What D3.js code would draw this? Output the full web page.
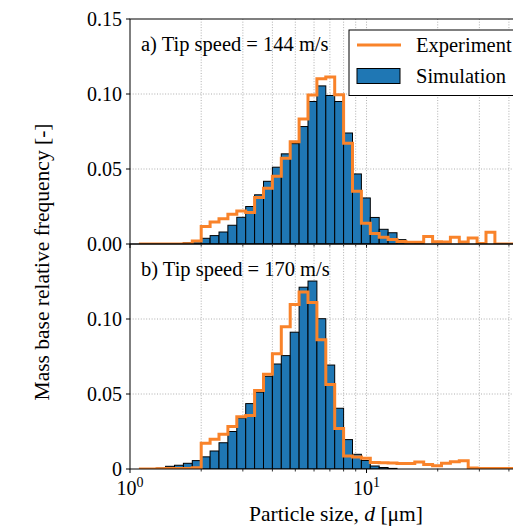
<!DOCTYPE html>
<html>
<head>
<meta charset="utf-8">
<script src="https://cdn.jsdelivr.net/npm/d3@7"></script>
<style>
  body { margin: 0; background: #fff; }
  svg { display: block; }
  text { font-family: "Liberation Serif", "Times New Roman", "DejaVu Serif", serif; fill: #000; }
</style>
</head>
<body>
<svg id="chart"></svg>
<script>
// bins are log spaced, 8 per octave: bin k covers [2^(k/8), 2^((k+1)/8)]
const binsPerOctave = 8;

// a) tip speed 144 m/s
const simStartA = 6;
const simA = [0.0008, 0.0015, 0.0038, 0.0056, 0.008, 0.0125, 0.0178, 0.025, 0.0328,
  0.0418, 0.0512, 0.0601, 0.0669, 0.0783, 0.095, 0.1054, 0.099, 0.095, 0.074,
  0.0467, 0.0307, 0.0177, 0.0098, 0.0075, 0.0029, 0.0013, 0.0006];
const expStartA = 1;
const expA = [0, 0, 0, 0, 0, 0.0002, 0.002, 0.0116, 0.0147, 0.0169, 0.0198, 0.022,
  0.021, 0.031, 0.0372, 0.0452, 0.0572, 0.0681, 0.0834, 0.0993, 0.1102, 0.1114,
  0.0995, 0.0671, 0.0352, 0.0138, 0.007, 0.0045, 0.003, 0.0017, 0.0012, 0.0012,
  0.005, 0.0015, 0.0013, 0.0045, 0.0013, 0.004, 0.0003, 0.0078, 0, 0, 0, 0, 0];

// b) tip speed 170 m/s
const simStartB = 3;
const simB = [0.0006, 0.0018, 0.0025, 0.0038, 0.0056, 0.0081, 0.012, 0.0175, 0.025,
  0.034, 0.0436, 0.0512, 0.0618, 0.07, 0.0756, 0.0912, 0.1212, 0.1253, 0.1002,
  0.0693, 0.0405, 0.0196, 0.0098, 0.0057, 0.002, 0.001, 0.0004];
const expStartB = 1;
const expB = [0, 0, 0.0002, 0.0003, 0.0003, 0.0004, 0.0008, 0.0172, 0.0198, 0.0232,
  0.0284, 0.0349, 0.0356, 0.0524, 0.0631, 0.0768, 0.0948, 0.1096, 0.118, 0.111,
  0.0862, 0.0564, 0.027, 0.0086, 0.008, 0.0072, 0.0044, 0.0042, 0.004, 0.0036,
  0.0037, 0.0047, 0.003, 0.0021, 0.0038, 0.0048, 0.0055, 0.0006, 0.0004, 0.0004,
  0.0004, 0.0004, 0.0004, 0.0004, 0.0004];

const panelLabels = ["a) Tip speed = 144 m/s", "b) Tip speed = 170 m/s"];
const yTicksA = [0, 0.05, 0.1, 0.15];
const yTickLabelsA = ["0.00", "0.05", "0.10", "0.15"];
const yTicksB = [0, 0.05, 0.1];
const yTickLabelsB = ["0", "0.05", "0.10"];
const legendLabels = ["Experiment", "Simulation"];

const width = 513, height = 527;
const left = 130, right = 542;
const blue = "#1f77b4", orange = "#f9832a";

const svg = d3.select("#chart").attr("width", width).attr("height", height);

const x = d3.scaleLog().domain([1, 55.2]).range([left, right]);
const yA = d3.scaleLinear().domain([0, 0.15]).range([244, 19]);
const yB = d3.scaleLinear().domain([0, 0.15]).range([469, 244]);

const edge = (k) => Math.pow(2, k / binsPerOctave);
const minorTicks = [2, 3, 4, 5, 6, 7, 8, 9, 20, 30, 40, 50];
const majorTicks = [1, 10];

function drawPanel(id, y, simStart, sim, expStart, exp, label, ticks, tickLabels) {
  const g = svg.append("g");
  const top = y.range()[1], bottom = y.range()[0];

  g.append("clipPath").attr("id", "clip" + id)
    .append("rect").attr("x", left).attr("y", top)
    .attr("width", right - left).attr("height", bottom - top);

  // grid, dotted
  const grid = g.append("g").attr("stroke", "#9a9a9a").attr("stroke-width", 0.8)
    .attr("stroke-dasharray", "1,1.7");
  grid.selectAll("line.vx")
    .data(minorTicks.concat([10]))
    .join("line")
    .attr("x1", (d) => x(d)).attr("x2", (d) => x(d))
    .attr("y1", top).attr("y2", bottom);
  grid.selectAll("line.hy")
    .data([0.05, 0.1])
    .join("line")
    .attr("x1", left).attr("x2", right)
    .attr("y1", (d) => y(d)).attr("y2", (d) => y(d));

  const plot = g.append("g").attr("clip-path", `url(#clip${id})`);

  // simulation bars
  plot.selectAll("rect")
    .data(sim.map((v, i) => ({ k: simStart + i, v: v })))
    .join("rect")
    .attr("x", (d) => x(edge(d.k)))
    .attr("width", (d) => x(edge(d.k + 1)) - x(edge(d.k)))
    .attr("y", (d) => y(d.v))
    .attr("height", (d) => y(0) - y(d.v))
    .attr("fill", blue)
    .attr("stroke", "#000")
    .attr("stroke-width", 1);

  // experiment step line
  const pts = exp.map((v, i) => [edge(expStart + i), v]);
  pts.push([edge(expStart + exp.length), exp[exp.length - 1]]);
  const line = d3.line()
    .x((d) => x(d[0]))
    .y((d) => y(d[1]))
    .curve(d3.curveStepAfter);
  plot.append("path")
    .attr("d", line(pts))
    .attr("fill", "none")
    .attr("stroke", orange)
    .attr("stroke-width", 3)
    .attr("stroke-linejoin", "miter");

  // frame
  g.append("rect")
    .attr("x", left).attr("y", top)
    .attr("width", right - left).attr("height", bottom - top)
    .attr("fill", "none").attr("stroke", "#000").attr("stroke-width", 1);

  // y ticks
  g.selectAll("line.yt")
    .data(ticks)
    .join("line")
    .attr("x1", left - 4).attr("x2", left)
    .attr("y1", (d) => y(d)).attr("y2", (d) => y(d))
    .attr("stroke", "#000");
  g.selectAll("text.yl")
    .data(ticks)
    .join("text")
    .attr("x", left - 8)
    .attr("y", (d) => y(d))
    .attr("dy", "0.35em")
    .attr("text-anchor", "end")
    .attr("font-size", "20px")
    .text((d, i) => tickLabels[i]);

  // x ticks
  g.selectAll("line.xmin")
    .data(minorTicks)
    .join("line")
    .attr("x1", (d) => x(d)).attr("x2", (d) => x(d))
    .attr("y1", bottom).attr("y2", bottom + 2.5)
    .attr("stroke", "#000").attr("stroke-width", 0.8);
  g.selectAll("line.xmaj")
    .data(majorTicks)
    .join("line")
    .attr("x1", (d) => x(d)).attr("x2", (d) => x(d))
    .attr("y1", bottom).attr("y2", bottom + 4)
    .attr("stroke", "#000");

  g.append("text")
    .attr("x", 141)
    .attr("y", top + 32)
    .attr("font-size", "20.5px")
    .text(label);

  return g;
}

drawPanel("A", yA, simStartA, simA, expStartA, expA, panelLabels[0], yTicksA, yTickLabelsA);
const gB = drawPanel("B", yB, simStartB, simB, expStartB, expB, panelLabels[1], yTicksB, yTickLabelsB);

// x tick labels (bottom panel only)
majorTicks.forEach((d, i) => {
  const t = gB.append("text")
    .attr("x", x(d))
    .attr("y", 495)
    .attr("text-anchor", "middle")
    .attr("font-size", "20px");
  t.append("tspan").text("10");
  t.append("tspan").attr("font-size", "14px").attr("dy", "-8").text(String(i));
});

// axis labels
const xl = svg.append("text")
  .attr("x", (left + right) / 2)
  .attr("y", 521)
  .attr("text-anchor", "middle")
  .attr("font-size", "21.5px");
xl.append("tspan").text("Particle size, ");
xl.append("tspan").attr("font-style", "italic").text("d");
xl.append("tspan").text(" [\u03bcm]");

svg.append("text")
  .attr("transform", "translate(48.5, 262) rotate(-90)")
  .attr("text-anchor", "middle")
  .attr("font-size", "21.5px")
  .text("Mass base relative frequency [-]");

// legend
const legend = svg.append("g").attr("transform", "translate(349, 30)");
legend.append("rect")
  .attr("width", 200).attr("height", 65.5)
  .attr("fill", "#fff").attr("stroke", "#000").attr("stroke-width", 1);
legend.append("line")
  .attr("x1", 8).attr("x2", 52).attr("y1", 15).attr("y2", 15)
  .attr("stroke", orange).attr("stroke-width", 3);
legend.append("rect")
  .attr("x", 8).attr("y", 38.5).attr("width", 43).attr("height", 15)
  .attr("fill", blue).attr("stroke", "#000").attr("stroke-width", 1);
legend.selectAll("text.lg")
  .data(legendLabels)
  .join("text")
  .attr("x", 67)
  .attr("y", (d, i) => 15 + i * 30.5)
  .attr("dy", "0.35em")
  .attr("font-size", "20.5px")
  .text((d) => d);
</script>
</body>
</html>
